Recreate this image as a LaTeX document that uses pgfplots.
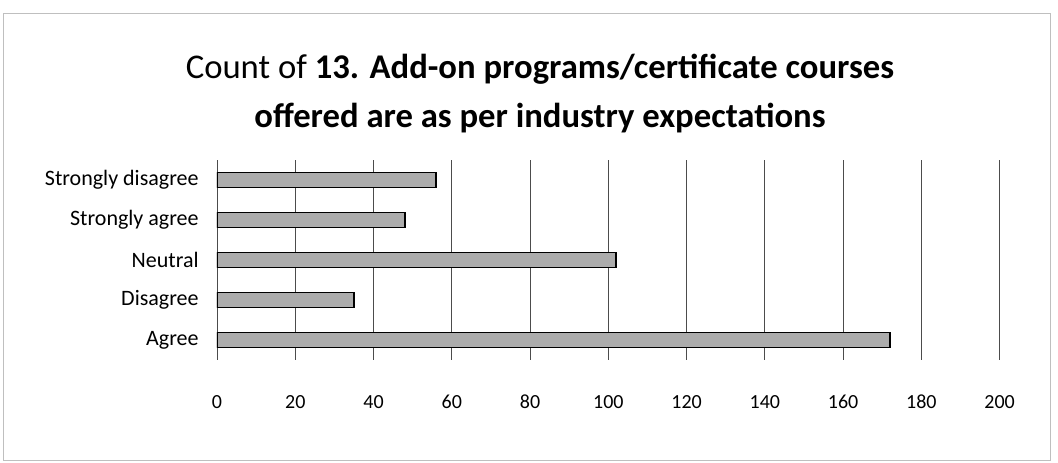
\documentclass[border=0pt]{standalone}
\usepackage{pgfplots}
\pgfplotsset{compat=1.18}
\usepackage{fontspec}
\setmainfont{Carlito}
\begin{document}
\begin{tikzpicture}
\draw[gray!50, line width=0.6pt] (2.25pt,2.25pt) rectangle (787.5pt,337.5pt);
\path (0pt,0pt) rectangle (793.5pt,347.25pt);
\node[align=center, font=\fontsize{26}{37}\selectfont] at (405pt,277pt) {Count of \textbf{13. Add-on programs/certificate courses}\\\textbf{offered are as per industry expectations}};
\begin{axis}[
  at={(162.75pt,77.25pt)}, anchor=south west,
  scale only axis, width=587pt, height=150pt,
  xbar, bar width=11pt,
  xmin=0, xmax=200, ymin=-0.5, ymax=4.5,
  xtick={0,20,...,200},
  ytick={0,1,2,3,4},
  yticklabels={Agree,Disagree,Neutral,Strongly agree,Strongly disagree},
  xmajorgrids, major grid style={black!70, line width=0.6pt},
  axis line style={draw=none},
  tick style={draw=none},
  /pgf/number format/assume math mode=true,
  xticklabel style={font=\fontsize{15}{17}\selectfont, anchor=north, text height=11pt, text depth=0pt, yshift=-22pt},
  yticklabel style={font=\fontsize{16.5}{19}\selectfont, xshift=-6pt},
]
\addplot[fill=gray!65, draw=black, line width=1.2pt] coordinates {
(172,0) (35,1) (102,2) (48,3) (56,4)};
\end{axis}
\end{tikzpicture}
\end{document}
